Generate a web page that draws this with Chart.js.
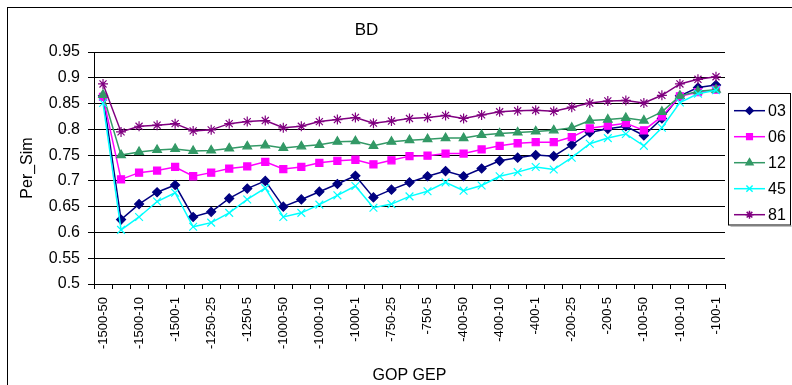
<!DOCTYPE html>
<html><head><meta charset="utf-8">
<script src="https://cdn.jsdelivr.net/npm/chart.js@4/dist/chart.umd.min.js"></script>
<style>html,body{margin:0;padding:0;background:#fff;}#wrap{width:792px;height:385px;}</style>
</head><body><div id="wrap"><canvas id="c" width="792" height="385"></canvas></div>
<script>
const categories = ["-1500-50","-1500-25","-1500-10","-1500-5","-1500-1","-1250-50","-1250-25","-1250-10","-1250-5","-1250-1","-1000-50","-1000-25","-1000-10","-1000-5","-1000-1","-750-50","-750-25","-750-10","-750-5","-750-1","-400-50","-400-25","-400-10","-400-5","-400-1","-200-50","-200-25","-200-10","-200-5","-200-1","-100-50","-100-25","-100-10","-100-5","-100-1"];
const s03 = [0.865,0.625,0.655,0.678,0.692,0.630,0.640,0.666,0.685,0.700,0.650,0.664,0.679,0.694,0.710,0.668,0.683,0.697,0.709,0.719,0.709,0.724,0.739,0.745,0.750,0.748,0.770,0.794,0.801,0.806,0.788,0.821,0.865,0.881,0.886];
const s06 = [0.863,0.703,0.716,0.720,0.727,0.709,0.716,0.724,0.728,0.737,0.723,0.727,0.735,0.739,0.741,0.732,0.740,0.748,0.749,0.753,0.753,0.761,0.768,0.773,0.775,0.775,0.785,0.802,0.807,0.812,0.798,0.825,0.864,0.872,0.877];
const s12 = [0.867,0.750,0.756,0.760,0.762,0.758,0.759,0.763,0.767,0.769,0.764,0.767,0.770,0.776,0.777,0.768,0.776,0.779,0.781,0.783,0.783,0.789,0.792,0.794,0.796,0.798,0.803,0.817,0.819,0.822,0.817,0.834,0.865,0.874,0.877];
const s45 = [0.851,0.605,0.630,0.660,0.677,0.611,0.619,0.638,0.664,0.686,0.630,0.638,0.654,0.672,0.690,0.648,0.655,0.670,0.680,0.697,0.681,0.691,0.709,0.717,0.727,0.722,0.745,0.772,0.783,0.791,0.768,0.803,0.852,0.869,0.876];
const s81 = [0.888,0.795,0.806,0.808,0.811,0.797,0.799,0.811,0.815,0.817,0.803,0.806,0.815,0.819,0.823,0.812,0.816,0.821,0.823,0.827,0.821,0.828,0.834,0.836,0.837,0.835,0.843,0.851,0.855,0.856,0.851,0.866,0.888,0.897,0.902];
const seriesNames = ["03","06","12","45","81"];
const yMin = 0.5, yMax = 0.95, yStep = 0.05;
const titleText = "BD", xTitle = "GOP GEP", yTitle = "Per_Sim";

const FONT = "'Liberation Sans', Arial, sans-serif";
const styles = [
  {color:'#000080', pointStyle:'rectRot', radius:4.5},
  {color:'#FF00FF', pointStyle:'rect', radius:5},
  {color:'#339966', pointStyle:'triangle', radius:5},
  {color:'#00FFFF', pointStyle:'crossRot', radius:5.5},
  {color:'#800080', pointStyle:'star', radius:5}
];
const values = [s03, s06, s12, s45, s81];
const datasets = values.map((v, i) => ({
  label: seriesNames[i], data: v,
  borderColor: styles[i].color, backgroundColor: styles[i].color,
  pointStyle: styles[i].pointStyle, pointRadius: styles[i].radius,
  pointBorderColor: styles[i].color, pointBackgroundColor: styles[i].color,
  pointBorderWidth: 1.2, borderWidth: 1.5, tension: 0, fill: false,
  order: values.length - i
}));

const framePlugin = {
  id: 'frame',
  beforeDraw(chart) {
    const ctx = chart.ctx;
    ctx.save();
    ctx.fillStyle = '#fff';
    ctx.fillRect(0, 0, chart.width, chart.height);
    ctx.strokeStyle = '#000'; ctx.lineWidth = 1;
    ctx.strokeRect(7.5, 7.5, 800, 400);
    ctx.restore();
  },
  afterDraw(chart) {
    const ctx = chart.ctx;
    ctx.save();
    const bx = 728.5, by = 93.5, bw = 62, bh = 131.5;
    ctx.fillStyle = '#fff';
    ctx.fillRect(bx, by, bw, bh);
    ctx.strokeStyle = '#000'; ctx.lineWidth = 1;
    ctx.strokeRect(bx, by, bw, bh);
    ctx.strokeStyle = '#808080';
    ctx.beginPath(); ctx.moveTo(bx + 2, by + bh + 1); ctx.lineTo(bx + bw + 1, by + bh + 1); ctx.stroke();
    chart.data.datasets.forEach((ds, i) => {
      const y = 110.7 + i * 26;
      ctx.strokeStyle = ds.borderColor; ctx.lineWidth = 1.5;
      ctx.beginPath(); ctx.moveTo(734, y); ctx.lineTo(765, y); ctx.stroke();
      ctx.fillStyle = ds.borderColor;
      if (Chart.helpers && Chart.helpers.drawPoint) {
        Chart.helpers.drawPoint(ctx, {pointStyle: ds.pointStyle, radius: ds.pointRadius * 0.8, rotation: 0, borderWidth: 1.2}, 749.5, y);
      }
      ctx.fillStyle = '#000';
      ctx.font = "16px " + FONT;
      ctx.textBaseline = 'middle'; ctx.textAlign = 'left';
      ctx.fillText(ds.label, 768, y + 0.5);
    });
    ctx.restore();
  }
};

new Chart(document.getElementById('c'), {
  type: 'line',
  data: { labels: categories, datasets },
  plugins: [framePlugin],
  options: {
    responsive: false, animation: false, devicePixelRatio: 1,
    layout: { padding: { left: 8, top: 8, right: 67, bottom: 0 } },
    plugins: {
      legend: { display: false },
      tooltip: { enabled: false },
      title: { display: true, text: titleText, color: '#000', font: { family: FONT, size: 17, weight: 'normal' }, padding: { top: 12.5, bottom: 11.1 } }
    },
    scales: {
      x: {
        type: 'category', offset: true,
        grid: { offset: true, drawOnChartArea: false, drawTicks: true, tickLength: 5, color: '#000', lineWidth: 1 },
        border: { color: '#000', width: 1 },
        ticks: { autoSkip: false, minRotation: 90, maxRotation: 90, color: '#000', padding: 8,
          font: { family: FONT, size: 13 },
          callback: (v, i) => (i % 2 === 0 ? categories[i] : '') },
        title: { display: true, text: xTitle, color: '#000', font: { family: FONT, size: 16 }, padding: { top: 0, bottom: 0 } },
        afterFit: s => { s.height = 101; }
      },
      y: {
        min: yMin, max: yMax,
        grid: { color: '#000', lineWidth: 1, tickLength: 6, drawTicks: true },
        border: { color: '#000', width: 1 },
        ticks: { stepSize: yStep, color: '#000', padding: 8, font: { family: FONT, size: 16 },
          callback: v => String(Number(v.toFixed(2))) },
        title: { display: true, text: yTitle, color: '#000', font: { family: FONT, size: 16 }, padding: { top: 10, bottom: 0 } },
        afterFit: s => { s.width = 86; }
      }
    }
  }
});
</script></body></html>
